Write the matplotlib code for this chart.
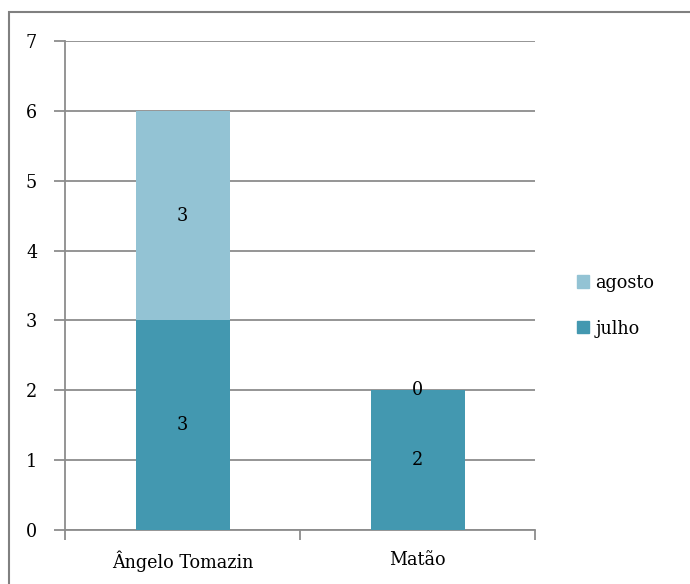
import matplotlib
matplotlib.use("Agg")
import matplotlib.pyplot as plt
from matplotlib.patches import Rectangle, Patch

categories = ["Ângelo Tomazin", "Matão"]
julho = [3, 2]
agosto = [3, 0]
yticks = [0, 1, 2, 3, 4, 5, 6, 7]

c_jul = "#4398B0"
c_ago = "#93C3D4"
grid_c = "#8C8C8C"
fs = 14

plt.rcParams["font.family"] = ["DejaVu Serif"]
plt.rcParams["font.stretch"] = "condensed"

fig = plt.figure(figsize=(6.9, 5.84), dpi=100)
ax = fig.add_axes([65/690, 54/584, 470/690, 489/584])

x = [0.5, 1.5]
w = 0.4
ax.bar(x, julho, width=w, color=c_jul, zorder=3, label="julho")
ax.bar(x, agosto, width=w, bottom=julho, color=c_ago, zorder=3, label="agosto")

for xi, j, a in zip(x, julho, agosto):
    ax.text(xi, j/2, str(j), ha="center", va="center", fontsize=fs, zorder=4)
    ax.text(xi, j + a/2, str(a), ha="center", va="center", fontsize=fs, zorder=4)

ax.set_xlim(0, 2)
ax.set_ylim(0, 7)
ax.set_yticks(yticks)
ax.set_yticklabels([str(v) for v in yticks], fontsize=fs)
ax.set_xticks([0, 1, 2])
ax.set_xticklabels([])
ax.set_xticks(x, minor=True)
ax.set_xticklabels(categories, minor=True, fontsize=fs)
ax.tick_params(axis="x", which="minor", length=0, pad=15)
ax.tick_params(axis="x", which="major", direction="out", length=7, color=grid_c, width=1.3)
ax.tick_params(axis="y", direction="out", length=8, color=grid_c, width=1.3, pad=12)

ax.grid(axis="y", color=grid_c, linewidth=1.3, zorder=0)
for s in ["top", "right"]:
    ax.spines[s].set_visible(False)
for s in ["left", "bottom"]:
    ax.spines[s].set_color(grid_c)
    ax.spines[s].set_linewidth(1.3)

handles = [Patch(color=c_ago, label="agosto"), Patch(color=c_jul, label="julho")]
fig.legend(handles=handles, loc="center left", bbox_to_anchor=(577/690, 1 - 306/584),
           frameon=False, fontsize=fs, handlelength=0.6, handleheight=0.6,
           handletextpad=0.35, labelspacing=1.4, borderpad=0, borderaxespad=0)

fig.patches.append(Rectangle((9/690, -0.1), 1.2, (584-12)/584 + 0.1, transform=fig.transFigure,
                             fill=False, edgecolor="#808080", linewidth=1.5))

fig.savefig("out.png", dpi=100)
